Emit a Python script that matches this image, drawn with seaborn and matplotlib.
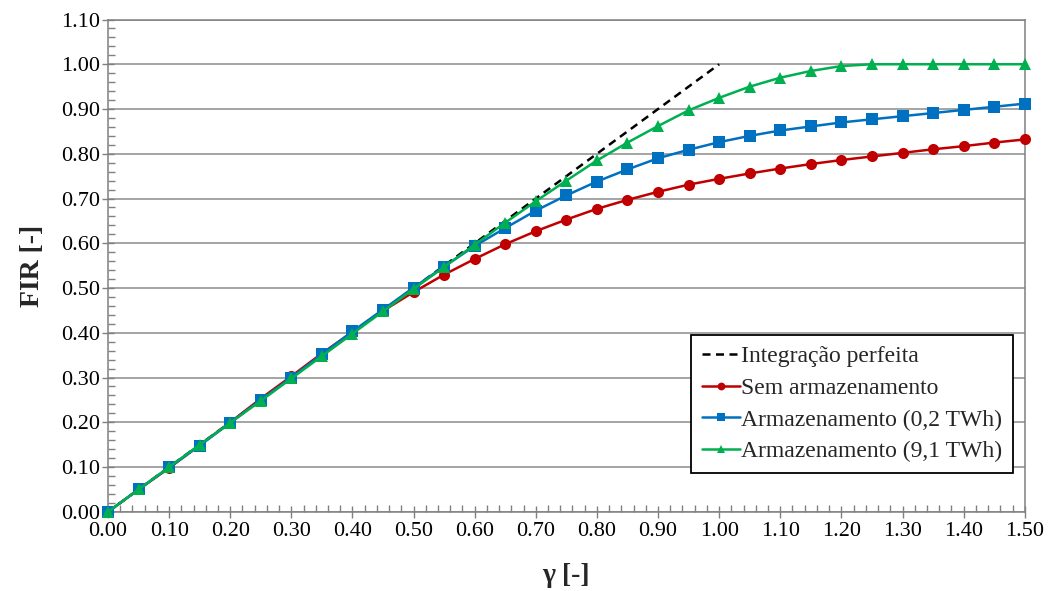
import numpy as np
import pandas as pd
import matplotlib
matplotlib.use("Agg")
import matplotlib.pyplot as plt
import seaborn as sns
from matplotlib.ticker import MultipleLocator, FormatStrFormatter

# gamma values (x axis)
gamma = [0.00, 0.05, 0.10, 0.15, 0.20, 0.25, 0.30, 0.35, 0.40, 0.45, 0.50,
         0.55, 0.60, 0.65, 0.70, 0.75, 0.80, 0.85, 0.90, 0.95, 1.00,
         1.05, 1.10, 1.15, 1.20, 1.25, 1.30, 1.35, 1.40, 1.45, 1.50]

# FIR series
sem_armaz = [0.000, 0.050, 0.098, 0.149, 0.200, 0.253, 0.303, 0.354, 0.402, 0.449, 0.491,
             0.530, 0.565, 0.598, 0.627, 0.653, 0.677, 0.697, 0.715, 0.731, 0.744,
             0.756, 0.767, 0.777, 0.786, 0.794, 0.802, 0.810, 0.817, 0.825, 0.832]
armaz_02 = [0.000, 0.050, 0.099, 0.148, 0.199, 0.250, 0.300, 0.352, 0.403, 0.452, 0.501,
            0.548, 0.594, 0.634, 0.673, 0.707, 0.738, 0.765, 0.790, 0.809, 0.826,
            0.840, 0.852, 0.861, 0.870, 0.877, 0.884, 0.891, 0.898, 0.905, 0.912]
armaz_91 = [0.000, 0.050, 0.100, 0.150, 0.199, 0.248, 0.298, 0.348, 0.398, 0.448, 0.498,
            0.547, 0.597, 0.646, 0.694, 0.740, 0.785, 0.825, 0.862, 0.897, 0.925,
            0.950, 0.970, 0.985, 0.996, 1.000, 1.000, 1.000, 1.000, 1.000, 1.000]
# perfect integration reference line
perf_x = [0.0, 1.0]
perf_y = [0.0, 1.0]

labels = ["Integração perfeita", "Sem armazenamento",
          "Armazenamento (0,2 TWh)", "Armazenamento (9,1 TWh)"]
colors = ["#000000", "#C00000", "#0070C0", "#00B050"]

sns.set_style("white")
plt.rcParams['font.family'] = ['Liberation Serif', 'DejaVu Serif']

fig, ax = plt.subplots(figsize=(10.51, 5.91), dpi=100)
fig.subplots_adjust(left=0.1028, right=0.975, top=0.967, bottom=0.134)

sns.lineplot(x=perf_x, y=perf_y, ax=ax, color=colors[0], linestyle=(0, (3.2, 2.2)),
             linewidth=1.8, label=labels[0], zorder=2)
sns.lineplot(x=gamma, y=sem_armaz, ax=ax, color=colors[1], marker='o', markersize=8,
             markeredgewidth=0, linewidth=1.8, label=labels[1], clip_on=False, zorder=3)
sns.lineplot(x=gamma, y=armaz_02, ax=ax, color=colors[2], marker='s', markersize=8,
             markeredgewidth=0, linewidth=1.8, label=labels[2], clip_on=False, zorder=3)
sns.lineplot(x=gamma, y=armaz_91, ax=ax, color=colors[3], marker='^', markersize=8.5,
             markeredgewidth=0, linewidth=1.8, label=labels[3], clip_on=False, zorder=4)

ax.set_xlim(0, 1.5)
ax.set_ylim(0, 1.1)
ax.xaxis.set_major_locator(MultipleLocator(0.1))
ax.xaxis.set_minor_locator(MultipleLocator(0.02))
ax.yaxis.set_major_locator(MultipleLocator(0.1))
ax.yaxis.set_minor_locator(MultipleLocator(0.02))
ax.xaxis.set_major_formatter(FormatStrFormatter('%.2f'))
ax.yaxis.set_major_formatter(FormatStrFormatter('%.2f'))

ax.tick_params(which='major', direction='inout', length=9, width=1, color='#808080',
               labelsize=16, labelcolor='black')
ax.tick_params(which='minor', direction='in', length=5, width=1, color='#808080')
ax.tick_params(axis='x', which='both', bottom=True)
ax.tick_params(axis='x', which='major', pad=3)
ax.tick_params(axis='y', which='both', left=True)
ax.tick_params(axis='y', which='major', pad=1)

ax.grid(axis='y', which='major', color='#8c8c8c', linewidth=1.1)
ax.set_axisbelow(True)
for s in ax.spines.values():
    s.set_color('#808080')
    s.set_linewidth(1.1)

ax.set_xlabel("γ [-]", fontsize=20, fontweight='bold', labelpad=16)
ax.set_ylabel("FIR [-]", fontsize=20, fontweight='bold', labelpad=12)

leg = ax.legend(loc='lower right', bbox_to_anchor=(0.987, 0.079), fontsize=17,
                frameon=True, fancybox=False, edgecolor='black', framealpha=1,
                handlelength=1.6, handletextpad=0.05, borderpad=0.45,
                labelspacing=0.43, markerscale=0.7, borderaxespad=0)
leg.get_frame().set_linewidth(1.3)

fig.savefig("out.png", dpi=100)
